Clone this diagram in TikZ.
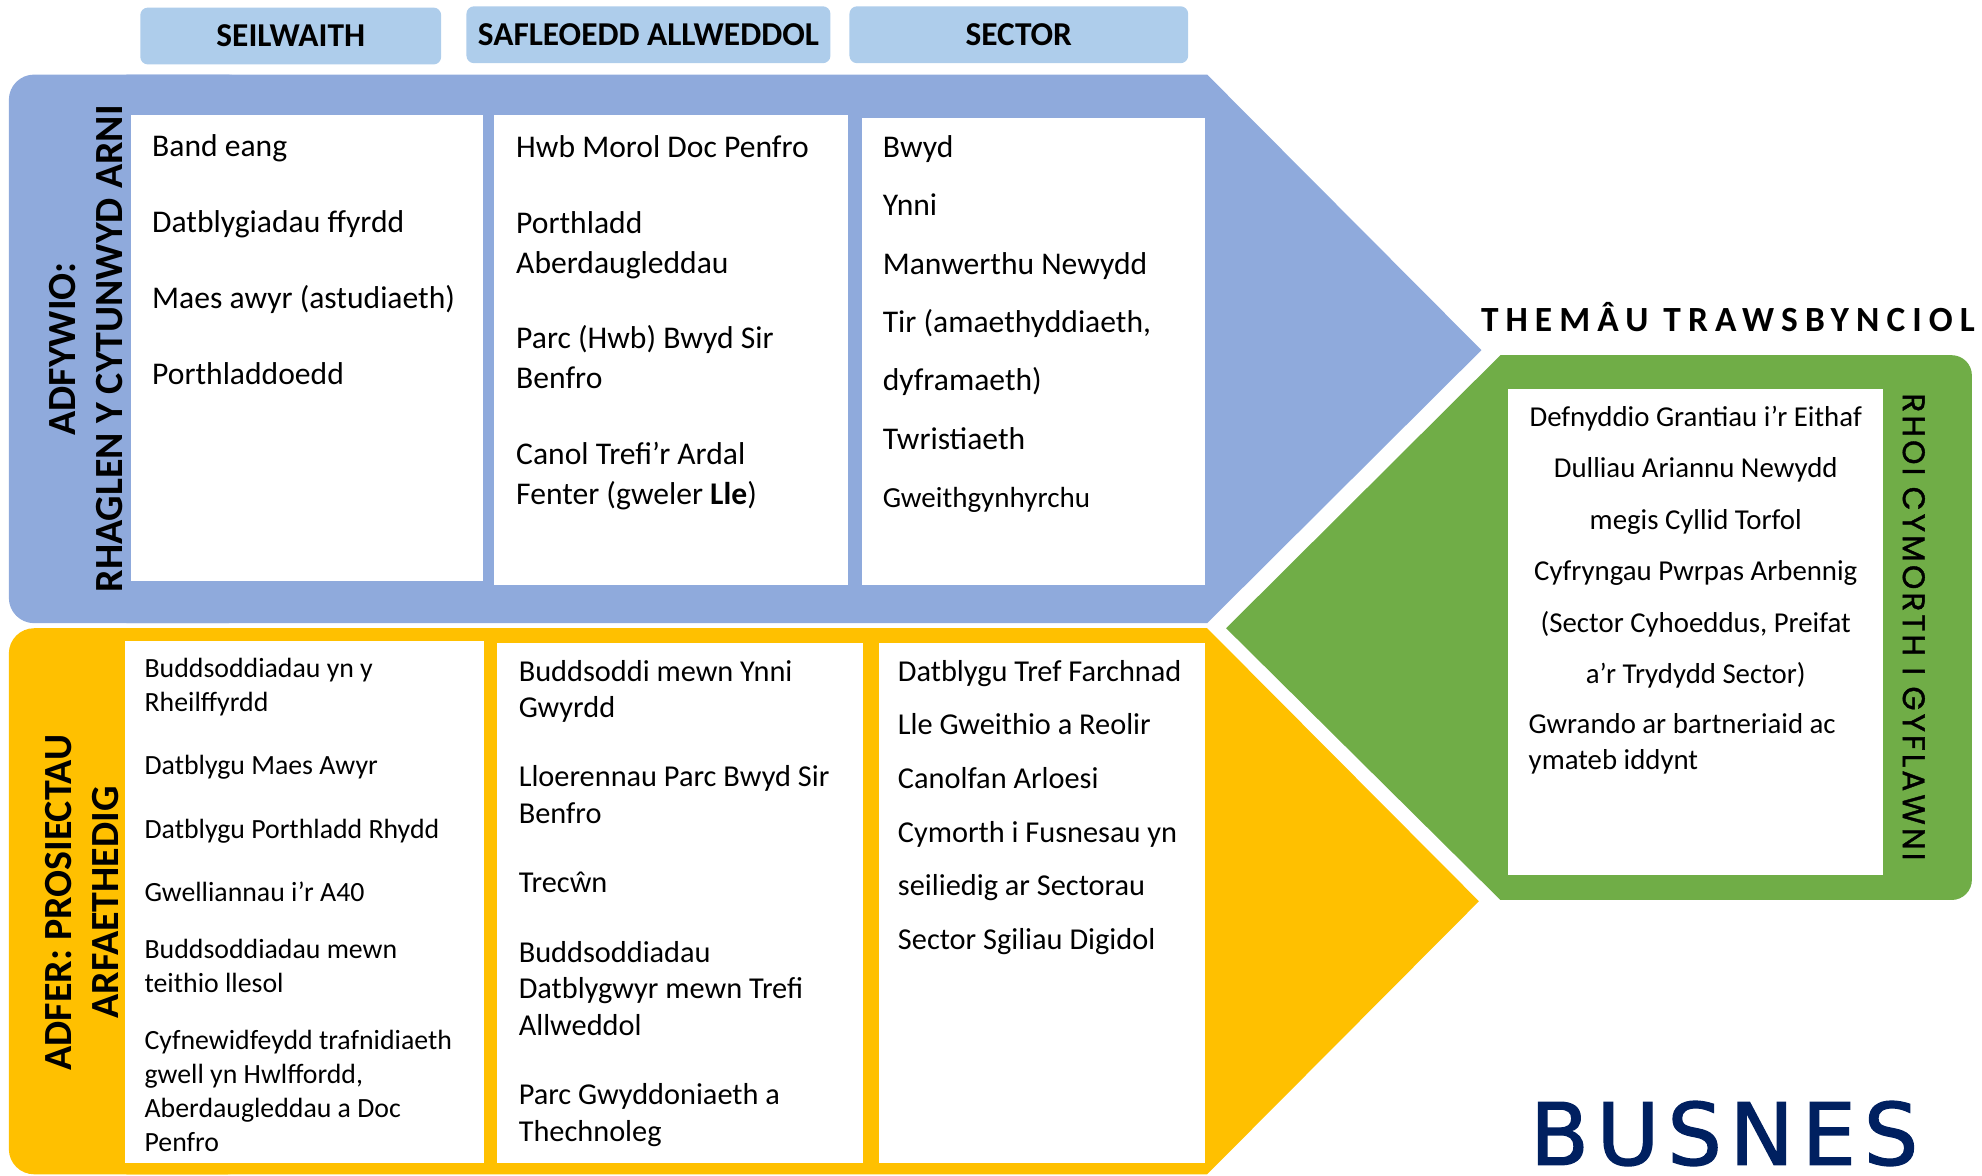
\documentclass[tikz,border=0pt]{standalone}
\usepackage{fontspec}
\setmainfont{Carlito}
\newfontfamily\busnesfont{DejaVu Sans}[LetterSpace=9,FakeBold=1.5]
\newfontfamily\themefont{Carlito}[LetterSpace=20]
\newfontfamily\rhoifont{Poppins}[LetterSpace=10,FakeBold=1.2]

\definecolor{bluepanel}{RGB}{143,170,220}
\definecolor{tabblue}{RGB}{174,205,235}
\definecolor{yellowpanel}{RGB}{255,192,0}
\definecolor{greenpanel}{RGB}{112,173,71}
\definecolor{navy}{RGB}{0,32,96}

\tikzset{
  tabbox/.style={fill=tabblue, rounded corners=3pt, inner sep=0pt,
    font=\bfseries\fontsize{13.2}{15}\selectfont},
  % anchored on the baseline of the last line
  itemtext/.style={anchor=base west, align=left, inner sep=0pt},
  sidetext/.style={align=center, inner sep=0pt,
    font=\bfseries\fontsize{15.8}{18.7}\selectfont},
}

\begin{document}
\begin{tikzpicture}[x=0.5pt,y=-0.5pt]
            \useasboundingbox (0,0) rectangle (1568,930);

            % Drawing panel ADFYWIO
            \fill [bluepanel, rounded corners=10pt] (7,59) rectangle (200,493);%
            \fill [bluepanel] (100,59) -- (955,59) -- (1172,277) -- (955,493) -- (100,493) -- cycle;%

            % Drawing panel ADFER
            \fill [yellowpanel, rounded corners=10pt] (7,497) rectangle (200,929);%
            \fill [yellowpanel] (100,497) -- (955,497) -- (1170,713) -- (955,929) -- (100,929) -- cycle;%

            % Drawing panel RHOI CYMORTH
            \fill [greenpanel, rounded corners=8pt] (1300,281) rectangle (1560,712);%
            \fill [greenpanel] (970,497) -- (1187,281) -- (1400,281) -- (1400,712) -- (1187,712) -- cycle;%

            % Drawing white boxes
            \fill [white] (104,91) rectangle (382,460);%
            \fill [white] (391,91) rectangle (671,463);%
            \fill [white] (682,93) rectangle (953,463);%
            \fill [white] (99,507) rectangle (383,920);%
            \fill [white] (393,509) rectangle (683,920);%
            \fill [white] (695,509) rectangle (953,920);%
            \fill [white] (1193,308) rectangle (1490,692);%

            % Marking column tabs
            \node [tabbox, minimum width=119pt, minimum height=22.5pt] (seilwaith) at (230,28.5) {SEILWAITH};%
            \node [tabbox, minimum width=144pt, minimum height=22.5pt] (safleoedd) at (513,27.5) {SAFLEOEDD ALLWEDDOL};%
            \node [tabbox, minimum width=134pt, minimum height=22.5pt] (sector) at (806,27.5) {SECTOR};%

            % Marking side titles
            \node [sidetext, rotate=90] (adfywio) at (68.3,276) {ADFYWIO:\\RHAGLEN Y CYTUNWYD ARNI};%
            \node [sidetext, rotate=90] (adfer) at (64.7,714) {ADFER: PROSIECTAU\\ARFAETHEDIG};%
            \node [inner sep=0pt, rotate=-90, font=\rhoifont\fontsize{12.3}{14}\selectfont] (rhoi) at (1514,496) {RHOI CYMORTH I GYFLAWNI};%

            % Marking blue items
            {\fontsize{12.5}{30}\selectfont
            \node [itemtext] (seilwaithA) at (120,304) {Band eang\\Datblygiadau ffyrdd\\Maes awyr (astudiaeth)\\Porthladdoedd};%
            }
            {\fontsize{12.5}{15.75}\selectfont
            \node [itemtext] (safleoeddA) at (408,399) {Hwb Morol Doc Penfro\\[14.25pt]Porthladd\\Aberdaugleddau\\[14.25pt]Parc (Hwb) Bwyd Sir\\Benfro\\[14.25pt]Canol Trefi’r Ardal\\Fenter (gweler \textbf{Lle})};%
            }
            {\fontsize{12.5}{23.1}\selectfont
            \node [itemtext] (sectorA) at (698,401.7) {Bwyd\\Ynni\\Manwerthu Newydd\\Tir (amaethyddiaeth,\\dyframaeth)\\Twristiaeth\\{\fontsize{11.5}{23.1}\selectfont Gweithgynhyrchu}};%
            }

            % Marking yellow items
            {\fontsize{11}{13.5}\selectfont
            \node [itemtext] (seilwaithB) at (114,911) {Buddsoddiadau yn y\\Rheilffyrdd\\[11.5pt]Datblygu Maes Awyr\\[11.5pt]Datblygu Porthladd Rhydd\\[11.5pt]Gwelliannau i’r A40\\[9pt]Buddsoddiadau mewn\\teithio llesol\\[9pt]Cyfnewidfeydd trafnidiaeth\\gwell yn Hwlffordd,\\Aberdaugleddau a Doc\\Penfro};%
            }
            {\fontsize{12}{14.4}\selectfont
            \node [itemtext] (safleoeddB) at (410,902.8) {Buddsoddi mewn Ynni\\Gwyrdd\\[13.1pt]Lloerennau Parc Bwyd Sir\\Benfro\\[13.1pt]Trecŵn\\[13.1pt]Buddsoddiadau\\Datblygwyr mewn Trefi\\Allweddol\\[13.1pt]Parc Gwyddoniaeth a\\Thechnoleg};%
            }
            {\fontsize{12}{21.25}\selectfont
            \node [itemtext] (sectorB) at (710,751.3) {Datblygu Tref Farchnad\\Lle Gweithio a Reolir\\Canolfan Arloesi\\Cymorth i Fusnesau yn\\seiliedig ar Sectorau\\Sector Sgiliau Digidol};%
            }

            % Marking green items
            {\fontsize{11.4}{20.35}\selectfont
            \node [anchor=base, align=center, inner sep=0pt] (themaA) at (1341.5,540.8) {Defnyddio Grantiau i’r Eithaf\\Dulliau Ariannu Newydd\\megis Cyllid Torfol\\Cyfryngau Pwrpas Arbennig\\(Sector Cyhoeddus, Preifat\\a’r Trydydd Sector)};%
            }
            {\fontsize{11.4}{14.2}\selectfont
            \node [itemtext] (themaB) at (1209,609) {Gwrando ar bartneriaid ac\\ymateb iddynt};%
            }

            % Marking headings
            \node [anchor=base, inner sep=0pt, font=\themefont\bfseries\fontsize{14}{16}\selectfont] (themau) at (1367,262) {THEMÂU TRAWSBYNCIOL};%
            \node [anchor=base, inner sep=0pt, text=navy, font=\busnesfont\fontsize{34}{40}\selectfont] (busnes) at (1364,921.5) {BUSNES};%
\end{tikzpicture}
\end{document}
